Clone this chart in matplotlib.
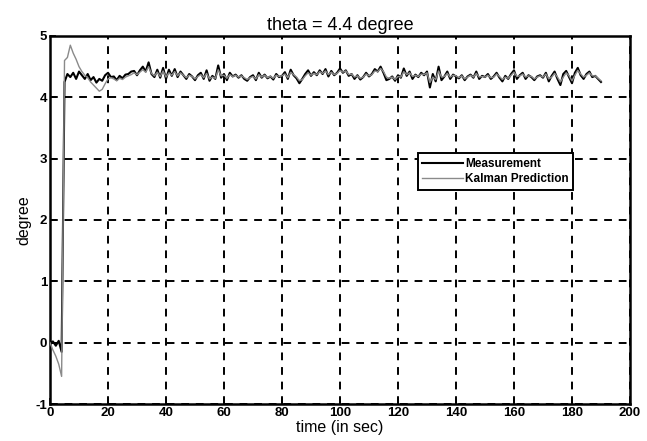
import matplotlib
matplotlib.use("Agg")
import matplotlib.pyplot as plt
import numpy as np

plt.rcParams['font.family'] = ['Liberation Sans', 'DejaVu Sans']
plt.rcParams['axes.unicode_minus'] = False

# one sample per second, 0..190 s
time = np.arange(0, 191)

measurement = [
    0.0, 0.02, -0.05, 0.03, -0.15, 4.25, 4.38, 4.33, 4.40, 4.30,
    4.42, 4.36, 4.30, 4.38, 4.28, 4.33, 4.24, 4.30, 4.27, 4.36,
    4.40, 4.33, 4.34, 4.28, 4.35, 4.31, 4.37, 4.38, 4.42, 4.43,
    4.36, 4.44, 4.50, 4.42, 4.57, 4.38, 4.33, 4.45, 4.32, 4.48,
    4.30, 4.45, 4.35, 4.46, 4.33, 4.42, 4.36, 4.30, 4.38, 4.34,
    4.28, 4.36, 4.40, 4.30, 4.44, 4.27, 4.35, 4.30, 4.52, 4.32,
    4.38, 4.28, 4.40, 4.34, 4.37, 4.32, 4.36, 4.30, 4.27, 4.33,
    4.36, 4.28, 4.40, 4.32, 4.37, 4.31, 4.34, 4.29, 4.38, 4.33,
    4.35, 4.41, 4.30, 4.45, 4.36, 4.31, 4.23, 4.30, 4.38, 4.44,
    4.35, 4.41, 4.36, 4.44, 4.38, 4.46, 4.34, 4.43, 4.36, 4.40,
    4.47, 4.40, 4.44, 4.35, 4.38, 4.30, 4.36, 4.29, 4.33, 4.40,
    4.34, 4.38, 4.46, 4.42, 4.50, 4.40, 4.28, 4.30, 4.34, 4.27,
    4.36, 4.32, 4.47, 4.35, 4.42, 4.30, 4.37, 4.33, 4.40, 4.36,
    4.42, 4.16, 4.38, 4.26, 4.50, 4.28, 4.34, 4.42, 4.30, 4.37,
    4.34, 4.31, 4.36, 4.28, 4.34, 4.37, 4.32, 4.42, 4.30, 4.35,
    4.33, 4.38, 4.30, 4.34, 4.40, 4.32, 4.26, 4.35, 4.30, 4.38,
    4.44, 4.30, 4.36, 4.40, 4.30, 4.36, 4.33, 4.28, 4.34, 4.36,
    4.32, 4.40, 4.26, 4.35, 4.42, 4.30, 4.20, 4.38, 4.43, 4.33,
    4.23, 4.40, 4.48, 4.36, 4.30, 4.38, 4.42, 4.33, 4.35, 4.30,
    4.25,
]

kalman = [
    0.0, -0.12, -0.22, -0.35, -0.55, 4.60, 4.65, 4.85, 4.72, 4.62,
    4.50, 4.42, 4.36, 4.32, 4.25, 4.20, 4.15, 4.10, 4.13, 4.22,
    4.30, 4.32, 4.30, 4.27, 4.31, 4.29, 4.33, 4.35, 4.37, 4.40,
    4.37, 4.41, 4.45, 4.41, 4.50, 4.39, 4.35, 4.41, 4.34, 4.43,
    4.33, 4.40, 4.36, 4.42, 4.35, 4.40, 4.36, 4.32, 4.36, 4.34,
    4.30, 4.34, 4.37, 4.32, 4.39, 4.30, 4.33, 4.31, 4.45, 4.35,
    4.36, 4.31, 4.37, 4.34, 4.36, 4.33, 4.35, 4.32, 4.29, 4.32,
    4.34, 4.30, 4.37, 4.33, 4.36, 4.32, 4.34, 4.31, 4.36, 4.34,
    4.35, 4.38, 4.32, 4.41, 4.37, 4.33, 4.27, 4.29, 4.35, 4.40,
    4.36, 4.39, 4.37, 4.42, 4.39, 4.43, 4.37, 4.41, 4.37, 4.39,
    4.44, 4.41, 4.43, 4.37, 4.38, 4.33, 4.35, 4.31, 4.33, 4.38,
    4.35, 4.37, 4.43, 4.42, 4.47, 4.42, 4.33, 4.31, 4.33, 4.29,
    4.34, 4.33, 4.42, 4.37, 4.40, 4.34, 4.36, 4.34, 4.38, 4.37,
    4.40, 4.24, 4.33, 4.29, 4.43, 4.33, 4.34, 4.39, 4.33, 4.36,
    4.35, 4.32, 4.35, 4.30, 4.33, 4.36, 4.33, 4.39, 4.33, 4.34,
    4.33, 4.36, 4.32, 4.33, 4.38, 4.34, 4.29, 4.33, 4.31, 4.36,
    4.41, 4.34, 4.35, 4.38, 4.33, 4.35, 4.34, 4.30, 4.33, 4.35,
    4.33, 4.38, 4.30, 4.33, 4.39, 4.33, 4.25, 4.33, 4.40, 4.35,
    4.27, 4.36, 4.44, 4.38, 4.33, 4.36, 4.40, 4.35, 4.35, 4.31,
    4.27,
]

xticks = list(range(0, 201, 20))
yticks = list(range(-1, 6))

fig = plt.figure(figsize=(6.47, 4.41), dpi=100)
ax = fig.add_axes([0.0773, 0.0839, 0.8964, 0.8345])

# black under, thinner gray on top so both traces stay visible
ax.plot(time, measurement, color='black', lw=1.5, label='Measurement', zorder=2.5)
ax.plot(time, kalman, color='#8a8a8a', lw=1.0, label='Kalman Prediction', zorder=3)

ax.set_xlim(0, 200)
ax.set_ylim(-1, 5)
ax.set_xticks(xticks)
ax.set_yticks(yticks)
ax.grid(True, color='black', linestyle=(0, (4, 3.5)), linewidth=1.4)
ax.tick_params(direction='in', length=4, width=1.2, labelsize=9.5, pad=2)
for lbl in ax.get_xticklabels() + ax.get_yticklabels():
    lbl.set_fontweight('bold')
for s in ax.spines.values():
    s.set_linewidth(1.8)

ax.set_title('theta = 4.4 degree', fontsize=13, pad=4)
ax.set_xlabel('time (in sec)', fontsize=11.5, labelpad=1)
ax.set_ylabel('degree', fontsize=11.5, labelpad=3)

leg = ax.legend(loc='upper left', bbox_to_anchor=(0.634, 0.682),
                prop={'weight': 'bold', 'size': 8.5},
                frameon=True, fancybox=False, handlelength=3.4,
                handletextpad=0.2, borderpad=0.4, labelspacing=0.3,
                borderaxespad=0)
leg.get_frame().set_edgecolor('black')
leg.get_frame().set_linewidth(1.4)
leg.get_frame().set_alpha(1)

fig.savefig('out.png', dpi=100)
